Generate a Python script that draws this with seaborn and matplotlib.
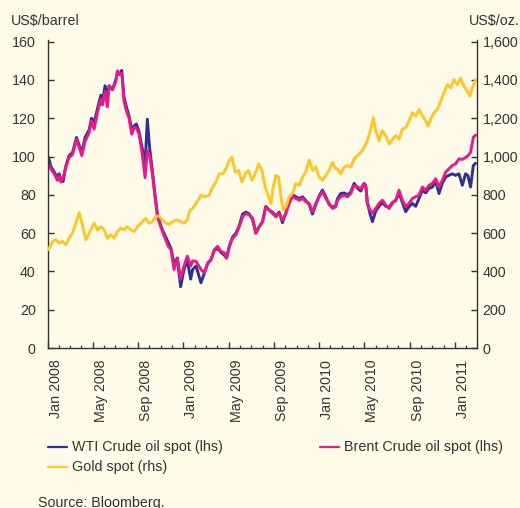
import matplotlib
matplotlib.use("Agg")
import matplotlib.pyplot as plt
import matplotlib.transforms as mtransforms
from matplotlib.lines import Line2D
import pandas as pd
import seaborn as sns

# ---- data (months since 1 Jan 2008) ----
oil_months = [0.09, 0.29, 0.59, 0.88, 1.03, 1.18, 1.38, 1.62, 1.91, 2.21,
              2.56, 2.79, 3.03, 3.32, 3.68, 3.88, 4.12, 4.41, 4.71, 4.85,
              5.09, 5.29, 5.44, 5.74, 6.03, 6.18, 6.38, 6.56, 6.76, 6.97,
              7.21, 7.44, 7.65, 7.85, 8.09, 8.38, 8.62, 8.82, 9.03, 9.26,
              9.5, 9.71, 10.0, 10.21, 10.44, 10.68, 10.91, 11.18, 11.47, 11.76,
              12.06, 12.35, 12.65,
              12.82, 13.12, 13.56, 13.85, 14.15, 14.44, 14.74, 15.03, 15.32, 15.62,
              15.82, 16.06, 16.35, 16.65, 16.94, 17.24, 17.53, 17.82, 18.12, 18.41,
              18.71, 19.0, 19.29, 19.59, 19.88, 20.18, 20.47, 20.76, 21.06, 21.35,
              21.65, 21.94, 22.24, 22.53, 22.82, 23.12, 23.41, 23.71, 24.0, 24.29,
              24.59, 24.88, 25.18, 25.47,
              25.62, 25.91, 26.21, 26.5, 26.79, 27.09, 27.38, 27.68, 27.97, 28.12,
              28.26, 28.5, 28.71, 29.0, 29.29, 29.59, 29.88, 30.18, 30.47, 30.76,
              31.06, 31.35, 31.65, 31.94, 32.24, 32.53, 32.82, 33.12, 33.41, 33.71,
              34.0, 34.29, 34.59, 34.88, 35.18, 35.47, 35.76, 36.06, 36.35, 36.65,
              36.94, 37.15, 37.38, 37.62, 37.82]

wti = [99.6, 95, 92, 89, 91, 88, 87, 95, 100.5, 102,
       110, 106, 102, 110, 114, 120, 118, 125, 132, 129,
       137, 131, 137, 135, 140, 144, 143, 145, 131, 126,
       121, 114, 116, 117, 113, 104, 95, 119.5, 104, 93,
       80, 70, 64, 61, 58, 55, 52, 44, 47, 32,
       41, 46, 36,
       41, 42.8, 34.1, 39, 44, 46, 51, 52, 50, 48.5,
       47, 53, 58, 60, 64, 70, 71, 70, 67, 60,
       63.5, 66, 74, 72, 71, 69, 71, 65.5, 70.5, 77,
       80, 79, 78, 79, 77, 75, 70, 75, 79.5, 82.5,
       79, 75, 73.5, 74.5,
       78, 80.7, 81, 80, 81.5, 86, 83.5, 82, 86, 85,
       76, 70, 66, 71.5, 74, 76, 74, 73.5, 76, 77,
       81, 76, 71.2, 73.8, 75.5, 74, 78, 82.5, 81, 83.5,
       84, 87, 80.7, 86, 89.3, 90.2, 91, 90.2, 91, 85,
       91, 90, 84.1, 95.3, 96.5]

brent = [96.2, 93.6, 91, 87.6, 90, 86.7, 89, 94.5, 99.6, 101,
         109, 104.8, 100.5, 108, 112.6, 118.6, 114.3, 123, 130, 127,
         134, 126, 136.7, 135, 139, 144.8, 142.7, 143.6, 129, 123.8,
         120, 111.7, 115, 115, 111.7, 101, 89, 103, 100.5, 91,
         79, 68.6, 63.4, 60, 56.5, 53, 51.4, 41, 47, 36,
         42.8, 48, 42.8,
         45.5, 45.3, 41, 39.3, 44.5, 46.2, 51.4, 53.1, 50.5, 49.7,
         47, 53.1, 57.4, 59.1, 63.4, 68.6, 70.3, 69.5, 67.8, 60,
         63.4, 66, 73.8, 72, 70.3, 68.6, 70.3, 66.9, 70.3, 75.5,
         79, 78.1, 77.2, 78.1, 76.4, 75.5, 71.2, 75.5, 79, 81.6,
         78.1, 75.5, 72.9, 73.8,
         77.2, 79, 79.8, 79, 80.7, 85, 84.1, 83.3, 85.9, 84.1,
         75.5, 72.1, 70.3, 72.9, 75.5, 77.2, 74.7, 72.9, 75.5, 77.2,
         82.4, 77.2, 73.8, 75.5, 78.1, 79, 79.8, 84.1, 82.4, 85,
         85.9, 88.4, 84.1, 87.6, 91.9, 93.6, 95.3, 96.2, 98.8, 98.5,
         99.5, 100.5, 102.2, 110, 111.2]

gold_months = [0.09, 0.44, 0.74, 1.03, 1.32, 1.62, 1.91, 2.21, 2.5, 2.79,
               3.09, 3.38, 3.68, 4.12, 4.41, 4.71, 5.0, 5.29, 5.59, 5.88,
               6.18, 6.47, 6.76, 7.06, 7.35, 7.65, 7.94, 8.38, 8.68, 8.97,
               9.26, 9.56, 9.85, 10.15, 10.44, 10.74, 11.03, 11.47, 11.76, 12.06,
               12.35, 12.59,
               12.82, 13.12, 13.56, 13.85, 14.29, 14.59, 14.88, 15.18, 15.47, 15.76,
               16.06, 16.29, 16.59, 16.88, 17.18, 17.47, 17.76, 18.06, 18.35, 18.65,
               18.94, 19.24, 19.53, 19.74, 19.94, 20.18, 20.41, 20.62, 20.82, 21.06,
               21.35, 21.65, 21.94, 22.24, 22.53, 22.82, 23.12, 23.41, 23.71, 24.0,
               24.29, 24.59, 24.88, 25.18, 25.47,
               25.62, 25.91, 26.21, 26.5, 26.79, 27.09, 27.38, 27.68, 27.97, 28.26,
               28.56, 28.79, 29.0, 29.29, 29.59, 29.88, 30.18, 30.47, 30.76, 31.06,
               31.35, 31.65, 31.94, 32.24, 32.53, 32.82, 33.12, 33.41, 33.62, 33.85,
               34.15, 34.44, 34.74, 35.03, 35.32, 35.62, 35.91, 36.21, 36.5, 36.79,
               37.09, 37.32, 37.53, 37.82]

gold = [514, 557, 566, 548, 557, 540, 574, 600, 652, 707,
        643, 566, 600, 652, 617, 634, 617, 574, 591, 574,
        609, 626, 617, 634, 617, 609, 634, 660, 678, 652,
        660, 686, 690, 669, 652, 647, 660, 669, 660, 652,
        669, 720,
        729, 755, 798, 790, 798, 841, 867, 910, 910, 936,
        979, 997, 919, 928, 867, 910, 928, 876, 910, 962,
        928, 841, 790, 755, 841, 902, 893, 790, 720, 738,
        790, 807, 859, 850, 893, 919, 983, 928, 945, 893,
        876, 902, 928, 970, 936,
        936, 910, 945, 953, 945, 988, 1005, 1022, 1048, 1083,
        1143, 1203, 1134, 1083, 1134, 1109, 1066, 1091, 1109, 1091,
        1143, 1152, 1186, 1229, 1212, 1246, 1212, 1186, 1160, 1195,
        1229, 1246, 1290, 1333, 1376, 1359, 1402, 1376, 1410, 1367,
        1341, 1316, 1359, 1402]

x_tick_months = [0, 4, 8, 12, 16, 20, 24, 28, 32, 36]
x_tick_labels = ["Jan 2008", "May 2008", "Sep 2008", "Jan 2009", "May 2009",
                 "Sep 2009", "Jan 2010", "May 2010", "Sep 2010", "Jan 2011"]
minor_months = list(range(0, 38))
left_ticks = [0, 20, 40, 60, 80, 100, 120, 140, 160]
right_ticks = [0, 200, 400, 600, 800, 1000, 1200, 1400, 1600]
right_tick_labels = ["0", "200", "400", "600", "800", "1,000", "1,200", "1,400", "1,600"]

series_names = ["WTI Crude oil spot (lhs)", "Brent Crude oil spot (lhs)", "Gold spot (rhs)"]

# ---- style ----
BG = "#FFFBE8"
C_WTI = "#2E3192"
C_BRENT = "#E8198B"
C_GOLD = "#FFC62A"
DARK = "#333333"
FS = 10.3

sns.set_theme(style="white")
plt.rcParams["font.family"] = ["Liberation Sans", "DejaVu Sans"]
plt.rcParams["text.color"] = DARK

W, H = 520, 508
fig = plt.figure(figsize=(W / 100, H / 100), dpi=100, facecolor=BG)
ax_l, ax_r, ax_b, ax_t = 47.5, 476.7, 348, 39.5
ax = fig.add_axes([ax_l / W, (H - ax_b) / H, (ax_r - ax_l) / W, (ax_b - ax_t) / H])
ax.set_facecolor(BG)

oil_df = pd.DataFrame({"month": oil_months, "wti": wti, "brent": brent})
gold_df = pd.DataFrame({"month": gold_months, "gold": gold})

sns.lineplot(data=oil_df, x="month", y="wti", ax=ax, color=C_WTI, lw=2.1,
             estimator=None, legend=False)
sns.lineplot(data=oil_df, x="month", y="brent", ax=ax, color=C_BRENT, lw=2.1,
             estimator=None, legend=False)

ax2 = ax.twinx()
sns.lineplot(data=gold_df, x="month", y="gold", ax=ax2, color=C_GOLD, lw=2.1,
             estimator=None, legend=False)

ytop = 160 * (ax_b - ax_t) / (ax_b - 41.7)
ax.set_ylim(0, ytop)
ax2.set_ylim(0, ytop * 10)
ax.set_xlim(0, 37.92)

for a in (ax, ax2):
    a.set_xlabel("")
    a.set_ylabel("")
    a.spines["top"].set_visible(False)
    for s in ("left", "right", "bottom"):
        a.spines[s].set_color(DARK)
        a.spines[s].set_linewidth(1.0)
ax.spines["right"].set_visible(False)
ax2.spines["left"].set_visible(False)
ax2.spines["bottom"].set_visible(False)
ax2.patch.set_visible(False)

ax.set_yticks(left_ticks)
ax.set_yticklabels([str(v) for v in left_ticks])
ax2.set_yticks(right_ticks)
ax2.set_yticklabels(right_tick_labels)
ax.set_xticks(x_tick_months)
ax.set_xticklabels(x_tick_labels, rotation=90)
ax.set_xticks(minor_months, minor=True)

ax.tick_params(axis="y", which="major", direction="in", length=4, width=1,
               color=DARK, labelsize=FS, pad=8.4, labelcolor=DARK, left=True)
ax2.tick_params(axis="y", which="major", direction="in", length=4, width=1,
                color=DARK, labelsize=FS, pad=4.3, labelcolor=DARK, right=True)
ax.tick_params(axis="x", which="major", direction="in", length=4.5, width=1,
               color=DARK, labelsize=FS, pad=8.4, labelcolor=DARK, bottom=True)
ax.tick_params(axis="x", which="minor", direction="in", length=2.4, width=0.9,
               color=DARK, bottom=True)

offset = mtransforms.ScaledTranslation(8 / 100, 0, fig.dpi_scale_trans)
for lab in ax.get_xticklabels():
    lab.set_transform(lab.get_transform() + offset)

# axis unit titles
fig.text(11 / W, 1 - 20.7 / H, "US$/barrel", fontsize=FS, ha="left", va="center", color=DARK)
fig.text(469 / W, 1 - 20.7 / H, "US$/oz.", fontsize=FS, ha="left", va="center", color=DARK)

# legend
legend_items = [(48, 447, C_WTI, series_names[0]),
                (320, 447, C_BRENT, series_names[1]),
                (48, 467, C_GOLD, series_names[2])]
for x0, y0, c, name in legend_items:
    fig.add_artist(Line2D([x0 / W, (x0 + 19) / W], [1 - y0 / H, 1 - y0 / H],
                          transform=fig.transFigure, color=c, lw=1.6))
    fig.text((x0 + 24) / W, 1 - y0 / H, name, fontsize=FS, ha="left",
             va="center", color=DARK)

fig.text(38 / W, 1.5 / H, "Source: Bloomberg.", fontsize=FS, ha="left",
         va="baseline", color=DARK)

fig.savefig("out.png", dpi=100, facecolor=BG)
